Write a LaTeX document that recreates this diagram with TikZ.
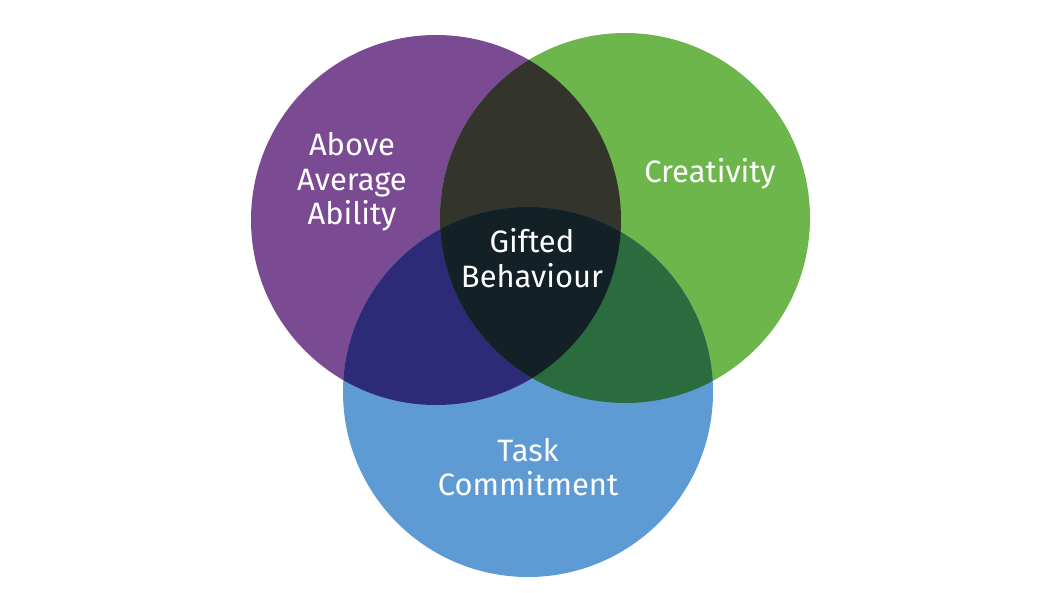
\documentclass[tikz,border=0pt]{standalone}
\usepackage{fontspec}
\setmainfont{Fira Sans}
\definecolor{abilitypurple}{HTML}{7A4B93}
\definecolor{creativegreen}{HTML}{6DB64B}
\definecolor{taskblue}{HTML}{5E9AD3}
\definecolor{pgdark}{HTML}{33342B}
\definecolor{pbnavy}{HTML}{2D2B78}
\definecolor{gbgreen}{HTML}{2A6C3E}
\definecolor{giftedcore}{HTML}{132026}
\begin{document}
\begin{tikzpicture}[declare function={ringr=185;},x=0.025cm,y=-0.025cm,every node/.style={font=\fontsize{22}{24.5}\selectfont,text=white,align=center},line join=round]
	\useasboundingbox (0,0) rectangle (1052,592);
	\path
	(436,220) coordinate (P)
	(625,218) coordinate (G)
	(528,392) coordinate (B);
	% the three circles
	\foreach \c/\col in {P/abilitypurple,G/creativegreen,B/taskblue}{
		\fill[\col] (\c) circle[radius=ringr];
	}
	% overlaps
	\begin{scope}
		\clip (P) circle[radius=ringr];
		\fill[pgdark] (G) circle[radius=ringr];
		\fill[pbnavy] (B) circle[radius=ringr];
	\end{scope}
	\begin{scope}
		\clip (G) circle[radius=ringr];
		\fill[gbgreen] (B) circle[radius=ringr];
	\end{scope}
	\begin{scope}
		\clip (P) circle[radius=ringr];
		\clip (G) circle[radius=ringr];
		\fill[giftedcore] (B) circle[radius=ringr];
	\end{scope}
	% labels
	\node (ability) at (352,182) {Above\\Average\\Ability};
	\node (creativity) at (710,174) {Creativity};
	\node (gifted) at (532,258) {Gifted\\Behaviour};
	\node (task) at (528,467) {Task\\Commitment};
\end{tikzpicture}
\end{document}
